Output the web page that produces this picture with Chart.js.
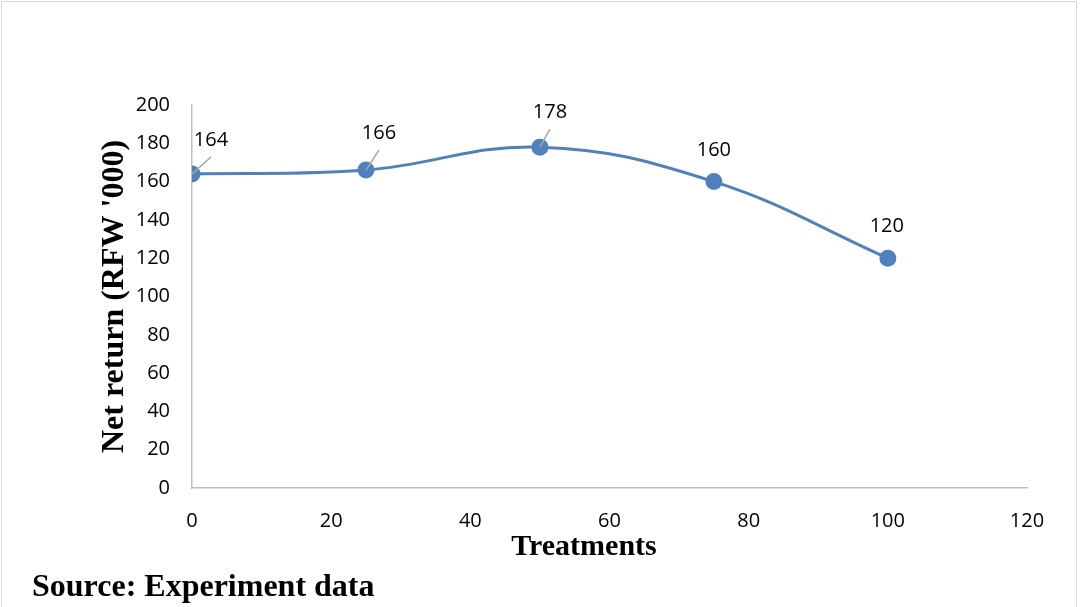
<!DOCTYPE html>
<html>
<head>
<meta charset="utf-8">
<script src="https://cdn.jsdelivr.net/npm/chart.js@4.4.1/dist/chart.umd.min.js"></script>
<style>
  html, body { margin: 0; padding: 0; background: #fff; }
  #wrap { position: relative; width: 1080px; height: 607px; }
  #frame { position: absolute; left: 1px; top: 1px; width: 1076px; height: 620px; border: 1px solid #d9d9d9; box-sizing: border-box; pointer-events: none; }
  .txt { position: absolute; font-family: "Liberation Serif", "Times New Roman", serif; font-weight: bold; color: #000; line-height: 1; white-space: nowrap; }
  #source { left: 32px; top: 569px; font-size: 32px; }
  #xtitle { left: 584px; top: 530px; font-size: 30px; transform: translateX(-50%); }
</style>
</head>
<body>
<div id="wrap">
  <canvas id="chart" width="1080" height="607"></canvas>
  <div id="frame"></div>
  <div id="xtitle" class="txt">Treatments</div>
  <div id="source" class="txt">Source: Experiment data</div>
</div>
<script>
// chart data
const treatments = [0, 25, 50, 75, 100];
const netReturn = [164, 166, 178, 160, 120];
const xTicks = [0, 20, 40, 60, 80, 100, 120];
const yTicks = [0, 20, 40, 60, 80, 100, 120, 140, 160, 180, 200];

const blue = '#4f81bd';
const axisGray = '#bfbfbf';
const tickFont = { family: 'Open Sans', size: 20 };

// label offsets from each point (px), and whether a leader line is drawn
const labelOffsets = [
  { dx: 19, dy: -34, leader: true },
  { dx: 13, dy: -37, leader: true },
  { dx: 10, dy: -35, leader: true },
  { dx: 0, dy: -31, leader: false },
  { dx: -1, dy: -32, leader: false }
];

// draws the value labels above the points
const valueLabels = {
  id: 'valueLabels',
  afterDatasetsDraw(chart) {
    const ctx = chart.ctx;
    const meta = chart.getDatasetMeta(0);
    ctx.save();
    meta.data.forEach((el, i) => {
      const off = labelOffsets[i];
      const lx = el.x + off.dx;
      const ly = el.y + off.dy;
      if (off.leader) {
        ctx.strokeStyle = '#a6a6a6';
        ctx.lineWidth = 1.5;
        ctx.beginPath();
        ctx.moveTo(el.x, el.y);
        ctx.lineTo(lx, ly + 17);
        ctx.stroke();
      }
      ctx.fillStyle = '#000';
      ctx.font = `${tickFont.size}px "${tickFont.family}"`;
      ctx.textAlign = 'center';
      ctx.textBaseline = 'middle';
      ctx.fillText(String(chart.data.datasets[0].data[i].y), lx, ly);
    });
    ctx.restore();
  }
};

new Chart(document.getElementById('chart'), {
  type: 'scatter',
  data: {
    datasets: [{
      data: treatments.map((x, i) => ({ x, y: netReturn[i] })),
      showLine: true,
      borderColor: blue,
      backgroundColor: blue,
      borderWidth: 3,
      tension: 0.4,
      pointRadius: 7,
      pointHoverRadius: 7
    }]
  },
  options: {
    responsive: false,
    animation: false,
    layout: { padding: { left: 96, top: 105, right: 53, bottom: 43 } },
    plugins: {
      legend: { display: false },
      tooltip: { enabled: false }
    },
    scales: {
      x: {
        type: 'linear',
        min: 0,
        max: 120,
        afterBuildTicks: (scale) => { scale.ticks = xTicks.map(v => ({ value: v })); },
        afterFit: (scale) => { scale.height = 76; },
        grid: { display: false, drawTicks: false },
        border: { display: true, color: axisGray, width: 1.5 },
        ticks: { color: '#000', font: tickFont, padding: 21, maxRotation: 0 }
      },
      y: {
        min: 0,
        max: 200,
        afterBuildTicks: (scale) => { scale.ticks = yTicks.map(v => ({ value: v })); },
        afterFit: (scale) => { scale.width = 96; },
        grid: { display: false, drawTicks: false },
        border: { display: true, color: axisGray, width: 1.5 },
        ticks: { color: '#000', font: tickFont, padding: 22 },
        title: {
          display: true,
          text: "Net return (RFW '000)",
          color: '#000',
          padding: 0,
          font: { family: 'Liberation Serif', size: 32, weight: 'bold' }
        }
      }
    }
  },
  plugins: [valueLabels]
});
</script>
</body>
</html>
